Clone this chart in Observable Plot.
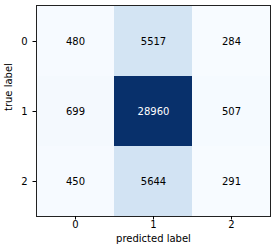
<!DOCTYPE html>
<html><head><meta charset="utf-8">
<script src="https://cdn.jsdelivr.net/npm/d3@7"></script>
<script src="https://cdn.jsdelivr.net/npm/@observablehq/plot@0.6"></script>
<style>body{margin:0;background:#fff}</style>
</head><body><div id="chart"></div>
<script>
const classes = ["0", "1", "2"];
const row0 = [480, 5517, 284];
const row1 = [699, 28960, 507];
const row2 = [450, 5644, 291];
const xLabel = "predicted label";
const yLabel = "true label";

const rows = [row0, row1, row2];
const table = [];
rows.forEach((r, i) => r.forEach((v, j) => table.push({t: classes[i], p: classes[j], v})));
const vmin = d3.min(table, d => d.v), vmax = d3.max(table, d => d.v);
const thresh = (vmin + vmax) / 2;

const chart = Plot.plot({
  width: 277, height: 249,
  marginLeft: 36, marginRight: 7, marginTop: 5, marginBottom: 33,
  style: {fontFamily: "DejaVu Sans", fontSize: "10px", color: "black", background: "white"},
  x: {domain: classes, padding: 0},
  y: {domain: classes, padding: 0},
  color: {type: "linear", scheme: "blues", domain: [vmin, vmax]},
  marks: [
    Plot.cell(table, {x: "p", y: "t", fill: "v"}),
    Plot.text(table, {x: "p", y: "t", text: d => String(d.v), fill: d => d.v > thresh ? "white" : "black", fontSize: 10}),
    Plot.frame({stroke: "#222", strokeWidth: 1}),
    Plot.axisX({tickSize: 3.5, tickPadding: 1, label: null}),
    Plot.axisY({tickSize: 3.5, tickPadding: 5.5, label: null}),
    Plot.text([xLabel], {text: d => d, frameAnchor: "bottom", dy: 25.5, fontSize: 10}),
    Plot.text([yLabel], {text: d => d, frameAnchor: "left", dx: -28, rotate: -90, fontSize: 10})
  ]
});
document.getElementById("chart").appendChild(chart);
</script>
</body></html>
